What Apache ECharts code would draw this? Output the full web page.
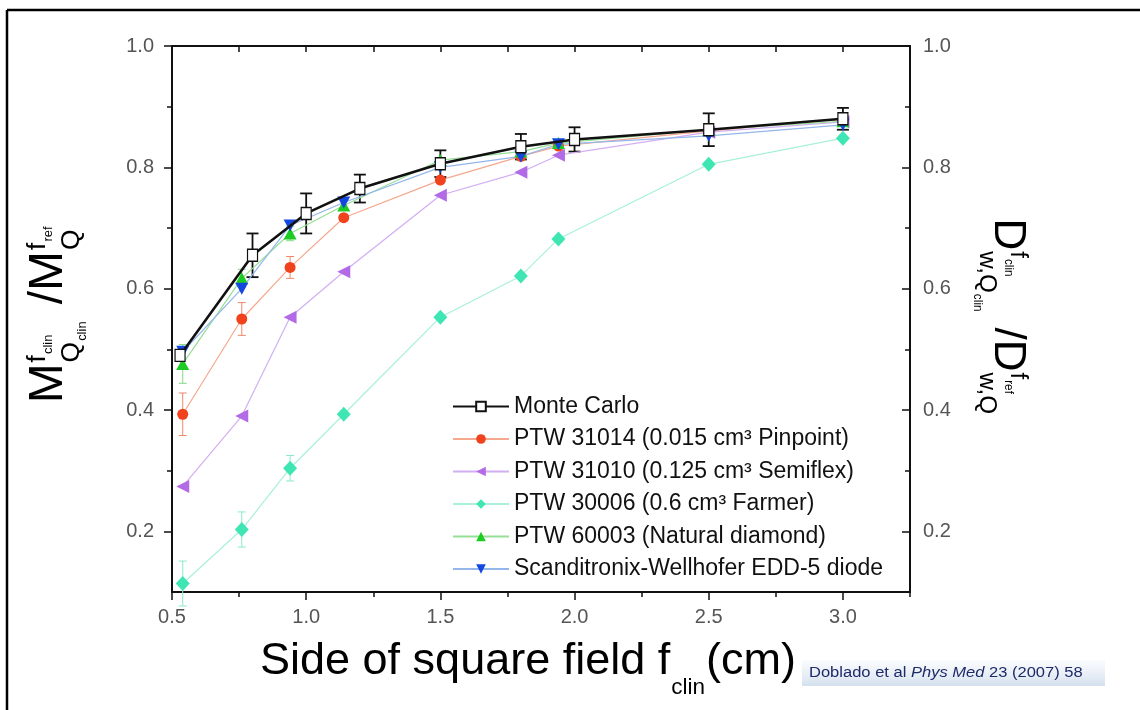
<!DOCTYPE html>
<html>
<head>
<meta charset="utf-8">
<script src="https://cdn.jsdelivr.net/npm/echarts@6/dist/echarts.min.js"></script>
<style>
  html, body { margin: 0; padding: 0; background: #fff; }
  #chart { width: 1140px; height: 710px; }
</style>
</head>
<body>
<div id="chart"></div>
<script>
// field sizes (cm)
const mcX = [0.53, 0.8, 1.0, 1.2, 1.5, 1.8, 2.0, 2.5, 3.0]
const detX = [0.54, 0.76, 0.94, 1.14, 1.5, 1.8, 1.94, 2.5, 3.0]

// Monte Carlo ratio with uncertainty
const monteCarlo = [0.490, 0.655, 0.724, 0.765, 0.806, 0.834, 0.846, 0.862, 0.880]
const monteCarloErr = [0, 0.036, 0.033, 0.023, 0.022, 0.021, 0.020, 0.027, 0.018]

// detectors
const pinpoint = [0.393, 0.550, 0.635, 0.717, 0.779, 0.818, 0.835, 0.860, 0.880]
const pinpointErr = [0.035, 0.027, 0.018, 0, 0, 0, 0, 0, 0]
const semiflex = [0.274, 0.390, 0.553, 0.628, 0.754, 0.792, 0.820, 0.858, 0.875]
const farmer = [0.114, 0.203, 0.304, 0.393, 0.553, 0.621, 0.682, 0.805, 0.848]
const farmerErr = [0.037, 0.029, 0.021, 0, 0, 0, 0, 0, 0]
const diamond = [0.476, 0.617, 0.691, 0.737, 0.812, 0.826, 0.840, 0.862, 0.876]
const diamondErr = [0.032, 0.015, 0.012, 0, 0, 0, 0, 0, 0]
const diode = [0.496, 0.600, 0.704, 0.742, 0.800, 0.818, 0.838, 0.852, 0.870]

const names = [
  'Monte Carlo',
  'PTW 31014 (0.015 cm³ Pinpoint)',
  'PTW 31010 (0.125 cm³ Semiflex)',
  'PTW 30006 (0.6 cm³ Farmer)',
  'PTW 60003 (Natural diamond)',
  'Scanditronix-Wellhofer EDD-5 diode'
]

const xMajor = [0.5, 1.0, 1.5, 2.0, 2.5, 3.0]
const xMinor = [0.75, 1.25, 1.75, 2.25, 2.75, 3.25]
const xTop = [0.75, 1.0, 1.25, 1.5, 1.75, 2.0, 2.25, 2.5, 2.75, 3.0, 3.25]
const yMajor = [0.2, 0.4, 0.6, 0.8, 1.0]
const yMinor = [0.3, 0.5, 0.7, 0.9]

const FONT = '"Liberation Sans", Arial, sans-serif'
const mctx = document.createElement('canvas').getContext('2d')
function tw(s, size, pre) {
  mctx.font = (pre || '') + ' ' + size + 'px "Liberation Sans"'
  return mctx.measureText(s).width
}
function txt(s, x, base, size, extra) {
  return {
    type: 'text', x: x, y: base - size * 0.35,
    style: Object.assign({ text: s, font: size + 'px ' + FONT, fill: '#000', verticalAlign: 'middle', align: 'left' }, extra || {})
  }
}

// ratio label like M^{f}_{Q} / M^{f}_{Q}
function buildRatio(parts, fs) {
  const s = fs * 0.55, ss = fs * 0.27
  let x = 0
  const kids = []
  parts.forEach(p => {
    kids.push(txt(p.main, x, 0, fs))
    x += tw(p.main, fs)
    const x0 = x + 1
    kids.push(txt(p.sup, x0, -fs * 0.40, s))
    let w1 = tw(p.sup, s)
    if (p.supSub) { kids.push(txt(p.supSub, x0 + w1 + 1, -fs * 0.28, ss)); w1 += tw(p.supSub, ss) + 1 }
    kids.push(txt(p.sub, x0, fs * 0.32, s))
    let w2 = tw(p.sub, s)
    if (p.subSub) { kids.push(txt(p.subSub, x0 + w2 + 1, fs * 0.44, ss)); w2 += tw(p.subSub, ss) + 1 }
    x = x0 + Math.max(w1, w2) + fs * 0.08
  })
  return { kids, width: x }
}

const leftT = buildRatio([
  { main: 'M', sup: 'f', supSub: 'clin', sub: 'Q', subSub: 'clin' },
  { main: ' /M', sup: 'f', supSub: 'ref', sub: 'Q' }
], 48)
const rightT = buildRatio([
  { main: 'D', sup: 'f', supSub: 'clin', sub: 'w,Q', subSub: 'clin' },
  { main: ' /D', sup: 'f', supSub: 'ref', sub: 'w,Q' }
], 44)

// x axis title
const xfs = 45
const xa = 'Side of square field f'
const xw1 = tw(xa, xfs), xw2 = tw('clin', xfs * 0.5), xw3 = tw('(cm)', xfs)
const xTotal = xw1 + xw2 + xw3
const xTitleKids = [
  txt(xa, 0, 0, xfs),
  txt('clin', xw1 + 1, xfs * 0.42, xfs * 0.5),
  txt('(cm)', xw1 + xw2 + 2, 0, xfs)
]

function errSeries(xs, ys, es, color, cap, lw) {
  const data = []
  xs.forEach((x, i) => { if (es[i] > 0) data.push([x, ys[i], es[i]]) })
  return {
    type: 'custom', silent: true, z: 1, data: data,
    encode: { x: 0, y: 1 },
    renderItem: (params, api) => {
      const x = api.value(0), y = api.value(1), e = api.value(2)
      const t = api.coord([x, y + e]), b = api.coord([x, y - e])
      const st = { stroke: color, lineWidth: lw }
      return {
        type: 'group', children: [
          { type: 'line', shape: { x1: t[0], y1: t[1], x2: b[0], y2: b[1] }, style: st },
          { type: 'line', shape: { x1: t[0] - cap, y1: t[1], x2: t[0] + cap, y2: t[1] }, style: st },
          { type: 'line', shape: { x1: b[0] - cap, y1: b[1], x2: b[0] + cap, y2: b[1] }, style: st }
        ]
      }
    }
  }
}

function lineSeries(name, xs, ys, mark, lineCol, symbol, size, extra) {
  return Object.assign({
    name: name, type: 'line', z: 3,
    data: xs.map((x, i) => [x, ys[i]]),
    symbol: symbol, symbolSize: size, showAllSymbol: true,
    lineStyle: { color: lineCol, width: 1.2 },
    itemStyle: { color: mark },
    emphasis: { disabled: true }
  }, extra || {})
}

const black = '#111'
function valueAxis(pos, ticks, len, inside, labels, line) {
  return {
    type: 'value', position: pos,
    min: 0.1, max: 1.0,
    axisLine: { show: line, onZero: false, lineStyle: { color: black, width: 2 } },
    axisTick: { show: true, inside: inside, length: len, customValues: ticks, lineStyle: { color: black, width: 1.5 } },
    axisLabel: labels ? { show: true, customValues: yMajor, formatter: v => v.toFixed(1), fontSize: 20, color: '#555', fontFamily: FONT, margin: pos === 'left' ? 18 : 13 } : { show: false },
    splitLine: { show: false }
  }
}
function xAxisDef(pos, ticks, len, inside, labels, line) {
  return {
    type: 'value', position: pos,
    min: 0.5, max: 3.25,
    axisLine: { show: line, onZero: false, lineStyle: { color: black, width: 2 } },
    axisTick: { show: true, inside: inside, length: len, customValues: ticks, lineStyle: { color: black, width: 1.5 } },
    axisLabel: labels ? { show: true, customValues: xMajor, formatter: v => v.toFixed(1), fontSize: 20, color: '#555', fontFamily: FONT, margin: 15 } : { show: false },
    splitLine: { show: false }
  }
}

const chart = echarts.init(document.getElementById('chart'), null, { renderer: 'canvas' })
const option = {
  animation: false,
  backgroundColor: '#fff',
  grid: { left: 172, right: 230, top: 46, bottom: 118, containLabel: false, outerBoundsMode: 'none' },
  xAxis: [
    xAxisDef('bottom', xMajor, 8, false, true, true),
    xAxisDef('bottom', xMinor, 5, false, false, false),
    xAxisDef('top', xTop, 6, true, false, true)
  ],
  yAxis: [
    valueAxis('left', yMajor, 8, false, true, true),
    valueAxis('left', yMinor, 5, false, false, false),
    valueAxis('right', yMajor, 8, true, true, true),
    valueAxis('right', yMinor, 5, true, false, false)
  ],
  legend: {
    orient: 'vertical', left: 447, top: 390,
    itemWidth: 56, itemHeight: 12, itemGap: 9.5,
    data: names,
    textStyle: { fontSize: 23, color: '#111', fontFamily: FONT }
  },
  series: [
    errSeries(detX, farmer, farmerErr, '#8ae9cc', 4, 1),
    errSeries(detX, pinpoint, pinpointErr, '#f0876a', 4, 1),
    errSeries(detX, diamond, diamondErr, '#86d886', 4, 1),
    errSeries(mcX, monteCarlo, monteCarloErr, black, 6, 1.8),
    lineSeries(names[3], detX, farmer, '#3fe6b4', '#a8f0da', 'diamond', [14, 15]),
    lineSeries(names[2], detX, semiflex, '#b36ae6', '#d2aef2', 'path://M0,5L10,0L10,10Z', [13, 13]),
    lineSeries(names[1], detX, pinpoint, '#f0421c', '#f5a88e', 'circle', 11),
    lineSeries(names[4], detX, diamond, '#1ccc22', '#96df96', 'triangle', [13, 12]),
    lineSeries(names[5], detX, diode, '#1446e0', '#94b6ea', 'path://M0,0L10,0L5,10Z', [13, 12]),
    lineSeries(names[0], mcX, monteCarlo, '#fff', black, 'rect', [10, 12], {
      z: 4,
      lineStyle: { color: black, width: 2.6 },
      itemStyle: { color: '#fff', borderColor: black, borderWidth: 1.3 }
    })
  ],
  graphic: [
    // frame
    { type: 'line', shape: { x1: 7, y1: 10, x2: 1140, y2: 10 }, style: { stroke: '#000', lineWidth: 2.5 } },
    { type: 'line', shape: { x1: 7, y1: 10, x2: 7, y2: 710 }, style: { stroke: '#000', lineWidth: 2.5 } },
    // y titles
    { type: 'group', x: 66, y: 313 + leftT.width / 2, rotation: Math.PI / 2, children: leftT.kids },
    { type: 'group', x: 992, y: 318 - rightT.width / 2, rotation: -Math.PI / 2, children: rightT.kids },
    // x title
    { type: 'group', x: 527 - xTotal / 2, y: 677, children: xTitleKids },
    // citation
    {
      type: 'rect', shape: { x: 802, y: 660, width: 303, height: 26 },
      style: { fill: new echarts.graphic.LinearGradient(0, 0, 0, 1, [
        { offset: 0, color: 'rgba(240,244,250,0.4)' },
        { offset: 1, color: '#d3dfee' }
      ]) }
    },
    {
      type: 'text', x: 809, y: 673, scaleX: 1.18,
      style: {
        text: '{n|Doblado et al }{i|Phys Med}{n| 23 (2007) 58}',
        verticalAlign: 'middle',
        rich: {
          n: { fontSize: 14, fontFamily: FONT, fill: '#1d2a68' },
          i: { fontSize: 14, fontFamily: FONT, fontStyle: 'italic', fill: '#1d2a68' }
        }
      }
    }
  ]
}
chart.setOption(option)
</script>
</body>
</html>
